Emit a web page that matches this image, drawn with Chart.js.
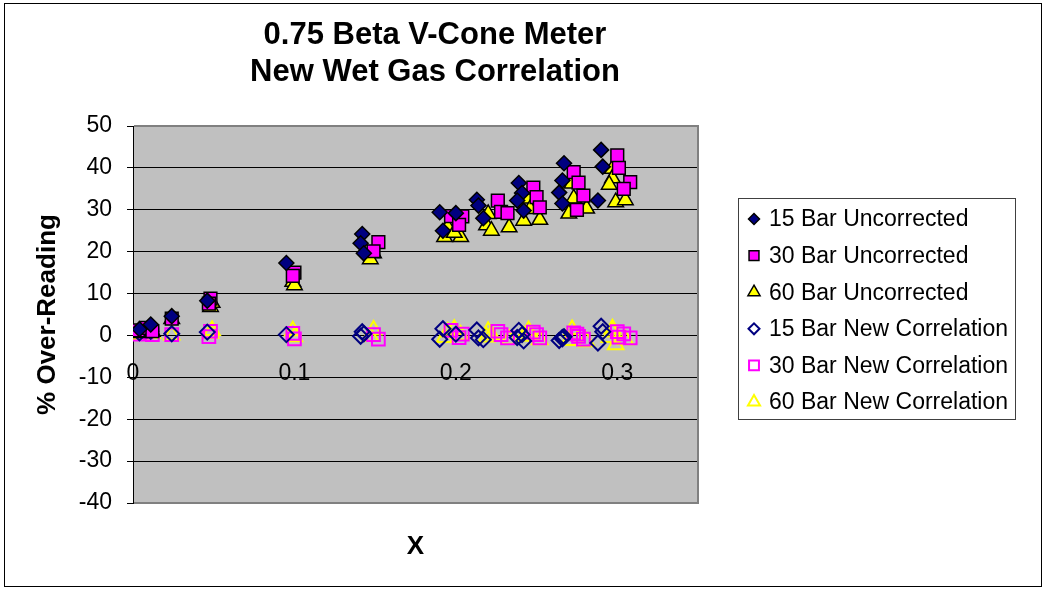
<!DOCTYPE html>
<html>
<head>
<meta charset="utf-8">
<script src="https://cdn.jsdelivr.net/npm/chart.js@4/dist/chart.umd.min.js"></script>
<style>
  html, body { margin: 0; padding: 0; background: #fff; }
</style>
</head>
<body>
<canvas id="chart" width="1046" height="589"></canvas>
<script>
// ---- data ----
const seriesNames = ['15 Bar Uncorrected', '30 Bar Uncorrected', '60 Bar Uncorrected',
                     '15 Bar New Correlation', '30 Bar New Correlation', '60 Bar New Correlation'];

// 15 bar: X, uncorrected over-reading, over-reading after new correlation
const x15   = [0.004, 0.011, 0.024, 0.046, 0.095, 0.142, 0.141, 0.143, 0.190, 0.192, 0.200,
               0.213, 0.214, 0.217, 0.239, 0.241, 0.238, 0.242, 0.267, 0.266, 0.264, 0.266, 0.288, 0.290, 0.291];
const unc15 = [1.5, 2.6, 4.6, 8.3, 17.3, 24.2, 22.0, 19.6, 29.4, 25.0, 29.2,
               32.4, 31.0, 28.0, 36.4, 34.0, 32.2, 29.8, 41.1, 37.0, 34.1, 31.5, 32.2, 44.3, 40.3];
const cor15 = [0.6, 1.0, 0.4, 0.8, 0.2, 0.9, -0.2, 0.4, -0.9, 1.6, 0.3,
               1.3, -0.6, -1.0, 1.2, 0.2, -0.5, -1.3, -0.3, -0.8, -1.2, -0.5, -1.8, 2.2, 0.9];

// 30 bar
const x30   = [0.003, 0.008, 0.012, 0.024, 0.048, 0.047, 0.100, 0.099, 0.152, 0.149, 0.197, 0.204, 0.202,
               0.226, 0.228, 0.232, 0.248, 0.250, 0.252, 0.273, 0.276, 0.279, 0.275, 0.300, 0.301, 0.308, 0.304];
const unc30 = [1.2, 1.8, 1.0, 4.0, 8.8, 7.6, 15.0, 14.2, 22.3, 20.1, 28.5, 28.4, 26.4,
               32.2, 29.5, 29.2, 35.3, 33.0, 30.6, 39.0, 36.5, 33.4, 30.0, 43.0, 40.0, 36.6, 35.0];
const cor30 = [0.3, 0.8, 0.2, 0.2, 1.0, -0.3, -0.8, 0.5, -0.9, 0.2, 1.2, 0.3, -0.5,
               1.0, 0.2, -0.6, 0.8, 0.2, -0.6, 0.6, -0.2, -0.9, 0.3, 0.9, -0.4, -0.6, 0.4];

// 60 bar
const x60   = [0.004, 0.012, 0.024, 0.048, 0.049, 0.099, 0.100, 0.149, 0.147, 0.195, 0.193, 0.203, 0.199,
               0.220, 0.219, 0.222, 0.233, 0.245, 0.246, 0.242, 0.252, 0.272, 0.273, 0.270, 0.281,
               0.297, 0.297, 0.295, 0.299, 0.305];
const unc60 = [0.6, 0.9, 3.9, 6.8, 7.8, 12.8, 12.0, 19.6, 18.2, 25.8, 23.5, 23.5, 24.5,
               29.0, 26.3, 25.0, 25.8, 32.7, 30.2, 27.4, 27.6, 36.3, 32.7, 29.1, 30.3,
               39.8, 37.5, 36.0, 31.8, 32.3];
const cor60 = [0.2, 0.5, 0.1, 0.5, 1.2, 1.1, -0.3, 1.3, -0.2, 0.8, -0.5, 0.1, 1.5,
               1.0, -0.4, 0.2, -0.9, 1.2, 0.3, -0.2, -1.0, 1.4, 0.2, -1.2, -1.5,
               1.6, 0.8, -0.5, -2.2, -1.0];

const xTicks = [0, 0.1, 0.2, 0.3];
const yTicks = [-40, -30, -20, -10, 0, 10, 20, 30, 40, 50];

const FONT = "'Liberation Sans', Arial, sans-serif";

function pts(xs, ys) {
    return xs.map((x, i) => ({ x: x, y: ys[i] }));
}

// marker styles: filled = uncorrected, open = new correlation
const markers = [
    { pointStyle: 'rectRot',  radius: 7.5, fill: '#000080', stroke: '#000000', width: 1.5 },
    { pointStyle: 'rect',     radius: 9,   fill: '#FF00FF', stroke: '#000000', width: 1.5 },
    { pointStyle: 'triangle', radius: 9,   fill: '#FFFF00', stroke: '#000000', width: 1.5 },
    { pointStyle: 'rectRot',  radius: 7.5, fill: 'rgba(0,0,0,0)', stroke: '#000080', width: 2 },
    { pointStyle: 'rect',     radius: 9,   fill: 'rgba(0,0,0,0)', stroke: '#FF00FF', width: 2 },
    { pointStyle: 'triangle', radius: 9,   fill: 'rgba(0,0,0,0)', stroke: '#FFFF00', width: 2 }
];

const seriesData = [pts(x15, unc15), pts(x30, unc30), pts(x60, unc60),
                    pts(x15, cor15), pts(x30, cor30), pts(x60, cor60)];

const datasets = seriesData.map((d, i) => ({
    label: seriesNames[i],
    data: d,
    pointStyle: markers[i].pointStyle,
    pointRadius: markers[i].radius,
    pointBackgroundColor: markers[i].fill,
    pointBorderColor: markers[i].stroke,
    pointBorderWidth: markers[i].width,
    showLine: false
}));

// plot background, frame, titles and the boxed legend (Excel look)
const excelFrame = {
    id: 'excelFrame',
    beforeDraw(chart) {
        const { ctx, chartArea: a } = chart;
        ctx.save();
        ctx.fillStyle = '#C0C0C0';
        ctx.fillRect(a.left, a.top, a.right - a.left, a.bottom - a.top);
        ctx.restore();
    },
    beforeDatasetsDraw(chart) {
        const { ctx, chartArea: a } = chart;
        ctx.save();
        ctx.strokeStyle = '#808080';
        ctx.lineWidth = 2;
        ctx.beginPath();
        ctx.moveTo(a.left + 1, a.top);
        ctx.lineTo(a.right, a.top);
        ctx.lineTo(a.right, a.bottom);
        ctx.lineTo(a.left + 1, a.bottom);
        ctx.stroke();
        ctx.restore();
    },
    afterDraw(chart) {
        const { ctx, chartArea: a } = chart;
        ctx.save();
        // chart title
        ctx.fillStyle = '#000';
        ctx.textAlign = 'center';
        ctx.textBaseline = 'middle';
        ctx.font = 'bold 31px ' + FONT;
        ctx.fillText('0.75 Beta V-Cone Meter', 435, 35);
        ctx.fillText('New Wet Gas Correlation', 435, 72);
        // x axis title
        ctx.font = 'bold 26px ' + FONT;
        ctx.fillText('X', (a.left + a.right) / 2, 547);

        // legend
        const lx = 738, ly = 198, lw = 277, lh = 221;
        ctx.strokeStyle = '#404040';
        ctx.lineWidth = 1;
        ctx.strokeRect(lx + 0.5, ly + 0.5, lw, lh);
        ctx.font = '23px ' + FONT;
        ctx.textAlign = 'left';
        seriesNames.forEach((name, i) => {
            const cy = 219 + i * 36.6;
            const m = markers[i];
            ctx.fillStyle = m.fill;
            ctx.strokeStyle = m.stroke;
            ctx.lineWidth = m.width;
            Chart.helpers.drawPoint(ctx, {
                pointStyle: m.pointStyle,
                radius: m.radius - 2,
                borderWidth: m.width,
                rotation: 0
            }, 754, cy);
            ctx.fillStyle = '#000';
            ctx.fillText(name, 769, cy + 1);
        });

        // outer chart border
        ctx.strokeStyle = '#000';
        ctx.lineWidth = 1;
        ctx.strokeRect(4.5, 3.5, 1037, 583);
        ctx.restore();
    }
};

new Chart(document.getElementById('chart'), {
    type: 'scatter',
    data: { datasets: datasets },
    options: {
        responsive: false,
        animation: false,
        events: [],
        layout: { padding: { top: 126, bottom: 86, left: 0, right: 348 } },
        plugins: {
            legend: { display: false },
            title: { display: false },
            tooltip: { enabled: false }
        },
        scales: {
            x: {
                type: 'linear',
                position: { y: 0 },
                min: 0,
                max: 0.35,
                afterBuildTicks: (scale) => { scale.ticks = xTicks.map(v => ({ value: v })); },
                ticks: {
                    padding: 24,
                    color: '#000',
                    font: { family: FONT, size: 23 },
                    maxRotation: 0,
                    callback: (v) => String(v)
                },
                grid: { display: false, drawTicks: false },
                border: { display: true, color: '#000', width: 1 }
            },
            y: {
                min: -40,
                max: 50,
                afterBuildTicks: (scale) => { scale.ticks = yTicks.map(v => ({ value: v })); },
                afterFit: (scale) => { scale.width = 133; },
                ticks: {
                    padding: 15,
                    color: '#000',
                    font: { family: FONT, size: 23 }
                },
                grid: { color: '#000', lineWidth: 1, tickLength: 6, drawTicks: true },
                border: { display: true, color: '#000', width: 1 },
                title: {
                    display: true,
                    text: '% Over-Reading',
                    color: '#000',
                    font: { family: FONT, size: 26, weight: 'bold' },
                    padding: { top: 32, bottom: 0 }
                }
            }
        }
    },
    plugins: [excelFrame]
});
</script>
</body>
</html>
